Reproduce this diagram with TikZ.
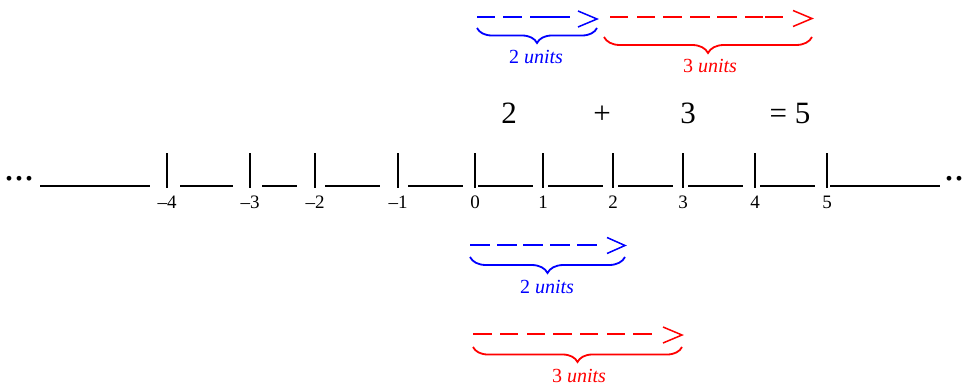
\documentclass[tikz,border=0pt]{standalone}
\usepackage{fontspec}
\setmainfont{Liberation Serif}
\usetikzlibrary{decorations.pathreplacing}
\definecolor{myblue}{RGB}{0,0,255}
\definecolor{myred}{RGB}{255,0,0}
\tikzset{
  every node/.style={inner sep=0pt, outer sep=0pt},
  axisline/.style={line width=1.6pt},
  tickmark/.style={line width=1.6pt},
  ticklabel/.style={anchor=base, font=\fontsize{19}{19}\selectfont},
  bigtext/.style={anchor=base, font=\fontsize{31}{31}\selectfont},
  unitlabel/.style={anchor=base, font=\fontsize{20}{20}\selectfont},
  dashseg/.style={line width=1.5pt},
  headmark/.style={line width=1.5pt, line join=miter},
  bracemark/.style={line width=1.8pt, decorate, decoration={brace, mirror, amplitude=#1}},
  dotstext/.style={anchor=base west, font=\fontsize{40}{40}\selectfont},
}
\begin{document}
\begin{tikzpicture}[x=1pt,y=-1pt]
\useasboundingbox (0,0) rectangle (965,385);
\fill[white] (0,0) rectangle (965,385);

% number line
\foreach \a/\b in {40/150,180/233,262/297,325/380,408/463,478/533,548/603,618/673,688/743,760/815,830/940}
  \draw[axisline] (\a,186) -- (\b,186);
\foreach \x/\l [count=\i] in {167/–4,250/–3,315/–2,398/–1,475/0,543/1,613/2,683/3,755/4,827/5}{
  \draw[tickmark] (\x,153) -- (\x,188);
  \node[ticklabel] (lab\i) at (\x,208) {\l};
}
\node[dotstext] (dotsL) at (5,180) {...};
\node[dotstext] (dotsR) at (944.5,180) {...};

% equation
\node[bigtext] (eqa) at (509,123) {2};
\node[bigtext] (eqp) at (602,123) {+};
\node[bigtext] (eqb) at (688,123) {3};
\node[bigtext] (eqc) at (790,123) {= 5};

% top blue arrow
\begin{scope}[myblue]
\foreach \a/\b in {477/495,503/522,530/550,550/570} \draw[dashseg] (\a,17) -- (\b,17);
\draw[headmark] (578,11) -- (597,19) -- (578,27);
\coordinate (tbA) at (477,28); \coordinate (tbB) at (597,28);
\draw[bracemark=15] (tbA) -- (tbB);
\node[unitlabel] (tbL) at (536,64) {2 \textit{units}};
\end{scope}

% top red arrow
\begin{scope}[myred]
\foreach \a/\b in {610/628,637/655,663/682,690/710,717/737,745/763,765/783} \draw[dashseg] (\a,17) -- (\b,17);
\draw[headmark] (793,10.5) -- (812,18.5) -- (793,26.5);
\coordinate (trA) at (604,37); \coordinate (trB) at (812,37);
\draw[bracemark=16] (trA) -- (trB);
\node[unitlabel] (trL) at (710,73) {3 \textit{units}};
\end{scope}

% bottom blue arrow
\begin{scope}[myblue]
\foreach \a/\b in {470/490,497/517,523/543,550/570,577/597} \draw[dashseg] (\a,245) -- (\b,245);
\draw[headmark] (607,237.5) -- (625,245.5) -- (607,253.5);
\coordinate (bbA) at (470,257); \coordinate (bbB) at (625,257);
\draw[bracemark=16] (bbA) -- (bbB);
\node[unitlabel] (bbL) at (547,293) {2 \textit{units}};
\end{scope}

% bottom red arrow
\begin{scope}[myred]
\foreach \a/\b in {473/492,500/518,527/545,553/572,580/598,607/625,633/652} \draw[dashseg] (\a,334) -- (\b,334);
\draw[headmark] (663,327) -- (682,335) -- (663,343);
\coordinate (brA) at (473,347); \coordinate (brB) at (682,347);
\draw[bracemark=15] (brA) -- (brB);
\node[unitlabel] (brL) at (579,382) {3 \textit{units}};
\end{scope}
\end{tikzpicture}
\end{document}
